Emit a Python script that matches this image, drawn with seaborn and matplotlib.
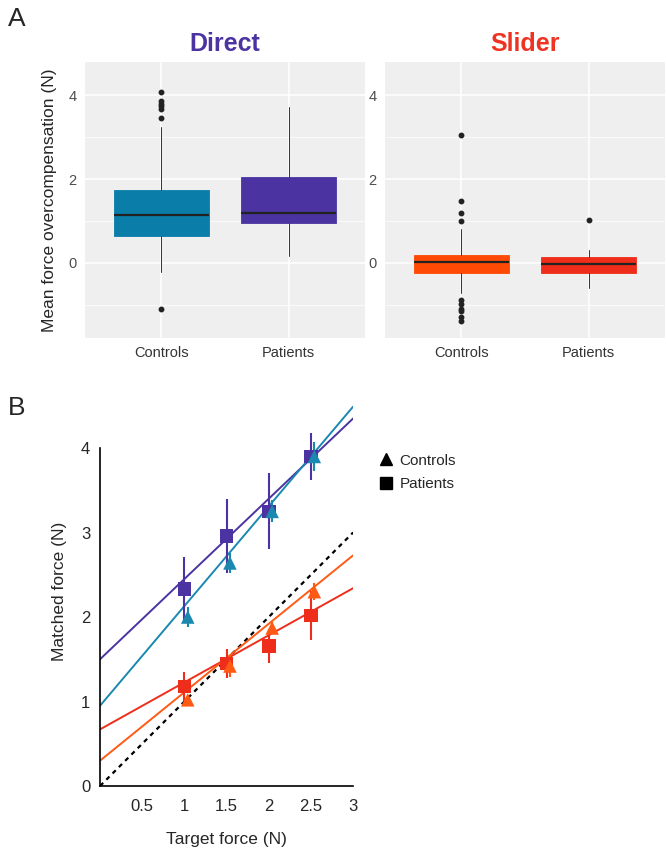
# force matching figure: box plots (A) and matched vs target force (B)

import numpy as np
import pandas as pd
import seaborn as sns
import matplotlib.pyplot as plt
from matplotlib.lines import Line2D

# ---- panel A data (box summaries) ----
groups = ["Controls", "Patients"]

direct_q1 = [0.64, 0.94]
direct_med = [1.15, 1.20]
direct_q3 = [1.74, 2.05]
direct_wlo = [-0.21, 0.16]
direct_whi = [3.25, 3.72]
direct_out = [[4.08, 3.86, 3.80, 3.74, 3.68, 3.45, -1.11], []]

slider_q1 = [-0.23, -0.24]
slider_med = [0.01, -0.02]
slider_q3 = [0.20, 0.15]
slider_wlo = [-0.72, -0.61]
slider_whi = [0.82, 0.30]
slider_out = [[3.05, 1.48, 1.20, 1.00, -0.88, -0.99, -1.09, -1.15, -1.29, -1.38], [1.03]]

direct_cols = ["#0A7EA9", "#4B34A2"]
slider_cols = ["#FF4A05", "#EE2E1A"]

# ---- panel B data ----
target = [1.0, 1.5, 2.0, 2.5]
dir_pat = [2.33, 2.96, 3.25, 3.90]
dir_pat_err = [0.38, 0.44, 0.45, 0.28]
dir_con = [2.00, 2.64, 3.25, 3.90]
dir_con_err = [0.12, 0.12, 0.13, 0.17]
sld_pat = [1.18, 1.45, 1.66, 2.02]
sld_pat_err = [0.17, 0.17, 0.20, 0.29]
sld_con = [1.02, 1.42, 1.87, 2.30]
sld_con_err = [0.06, 0.13, 0.07, 0.10]

# fitted lines (intercept, slope)
fit_dir_pat = (1.50, 0.95)
fit_dir_con = (0.95, 1.18)
fit_sld_pat = (0.67, 0.557)
fit_sld_con = (0.30, 0.81)

sns.set_style("white")
plt.rcParams["font.family"] = ["Liberation Sans", "DejaVu Sans"]

fig = plt.figure(figsize=(6.66, 8.49), dpi=100)


def box_panel(ax, q1, med, q3, wlo, whi, out, cols, title, tcol):
    stats = []
    for i in range(len(groups)):
        stats.append({"q1": q1[i], "med": med[i], "q3": q3[i],
                      "whislo": wlo[i], "whishi": whi[i],
                      "fliers": out[i], "label": groups[i]})
    ax.set_facecolor("#EFEFEF")
    ax.set_ylim(-1.79, 4.79)
    ax.set_xlim(0.4, 2.6)
    ax.set_yticks([0, 2, 4])
    ax.set_yticks([-1, 1, 3], minor=True)
    ax.grid(True, which="major", color="white", lw=1.1)
    ax.grid(True, which="minor", axis="y", color="white", lw=0.5)
    ax.set_axisbelow(True)
    bp = ax.bxp(stats, positions=[1, 2], widths=0.75, patch_artist=True,
                medianprops=dict(color="#222222", lw=1.6),
                whiskerprops=dict(color="#333333", lw=0.7),
                capprops=dict(lw=0),
                flierprops=dict(marker="o", markerfacecolor="#222222",
                                markeredgecolor="#222222", markersize=3.2))
    for patch, c in zip(bp["boxes"], cols):
        patch.set_facecolor(c)
        patch.set_edgecolor(c)
        patch.set_linewidth(0.6)
    for s in ax.spines.values():
        s.set_visible(False)
    ax.set_xticks([1, 2])
    ax.set_xticklabels(groups)
    ax.tick_params(axis="both", which="major", length=3, width=0.6,
                   color="#333333", labelsize=10.5, labelcolor="#4D4D4D", pad=3)
    ax.tick_params(axis="x", labelcolor="#333333")
    ax.tick_params(axis="y", which="minor", length=0)
    ax.set_title(title, color=tcol, fontsize=18, fontweight="bold", pad=8)


ax1 = fig.add_axes([0.1276, 0.6019, 0.4204, 0.3251])
box_panel(ax1, direct_q1, direct_med, direct_q3, direct_wlo, direct_whi,
          direct_out, direct_cols, "Direct", "#4B34A2")
ax1.set_ylabel("Mean force overcompensation (N)", fontsize=12.5, labelpad=8)

ax2 = fig.add_axes([0.578, 0.6019, 0.4204, 0.3251])
box_panel(ax2, slider_q1, slider_med, slider_q3, slider_wlo, slider_whi,
          slider_out, slider_cols, "Slider", "#EE3322")

# ---- panel B ----
ax3 = fig.add_axes([0.1502, 0.0742, 0.380, 0.4578])
ax3.set_xlim(0, 3)
ax3.set_ylim(0, 4.6)

ax3.axline((0, 0), slope=1, color="black", ls=(0, (2, 2)), lw=1.6, zorder=2)
for (b, m), c in [(fit_dir_pat, "#4B34A2"), (fit_dir_con, "#1B88B0"),
                  (fit_sld_pat, "#EE2E1A"), (fit_sld_con, "#FF5A14")]:
    ax3.axline((0, b), slope=m, color=c, lw=1.4, zorder=2)

off = 0.04
series = [
    (dir_pat, dir_pat_err, "#4B34A2", "s", 0.0),
    (dir_con, dir_con_err, "#1B88B0", "^", off),
    (sld_pat, sld_pat_err, "#EE2E1A", "s", 0.0),
    (sld_con, sld_con_err, "#FF5A14", "^", off),
]
for y, e, c, mk, dx in series:
    x = np.array(target) + dx
    ax3.errorbar(x, y, yerr=e, fmt="none", ecolor=c, elinewidth=1.5,
                 capsize=0, zorder=3)
    df = pd.DataFrame({"x": x, "y": y})
    sns.scatterplot(data=df, x="x", y="y", ax=ax3, marker=mk, color=c,
                    s=95, edgecolor="none", zorder=4, clip_on=False)

ax3.set_xticks([0.5, 1, 1.5, 2, 2.5, 3])
ax3.set_xticklabels(["0.5", "1", "1.5", "2", "2.5", "3"])
ax3.set_yticks([0, 1, 2, 3, 4])
ax3.spines["top"].set_visible(False)
ax3.spines["right"].set_visible(False)
ax3.spines["left"].set_bounds(0, 4)
ax3.spines["bottom"].set_bounds(0, 3)
for s in ["left", "bottom"]:
    ax3.spines[s].set_linewidth(1.2)
    ax3.spines[s].set_color("black")
ax3.tick_params(axis="both", direction="in", length=6, width=1.2,
                labelsize=12, pad=7)
ax3.tick_params(axis="x", pad=9)
ax3.set_xlabel("Target force (N)", fontsize=12.5, labelpad=13)
ax3.set_ylabel("Matched force (N)", fontsize=12.5, labelpad=10)

handles = [Line2D([], [], ls="none", marker="^", color="black", markersize=9),
           Line2D([], [], ls="none", marker="s", color="black", markersize=8)]
fig.legend(handles, ["Controls", "Patients"], loc="upper left",
           bbox_to_anchor=(0.545, 1 - 440 / 849), frameon=False,
           fontsize=11, handletextpad=0.3, labelspacing=0.6, handlelength=1.2)

fig.text(0.012, 0.978, "A", fontsize=19, va="center", ha="left")
fig.text(0.012, 0.519, "B", fontsize=19, va="center", ha="left")

fig.savefig("out.png", dpi=100)
